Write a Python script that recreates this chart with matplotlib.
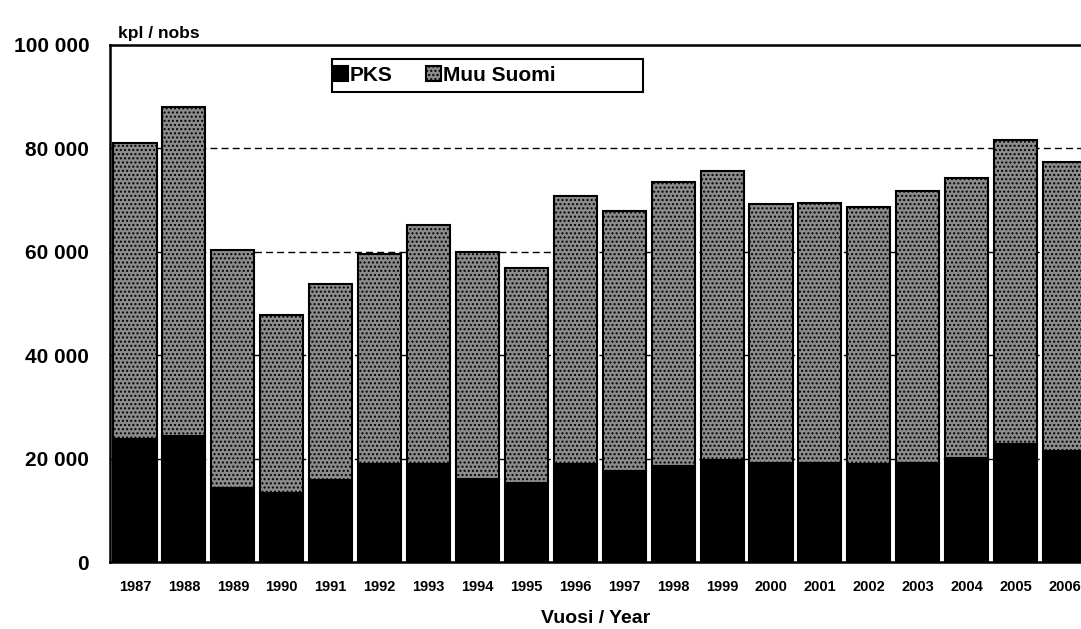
import numpy as np
import matplotlib.pyplot as plt
from matplotlib.patches import Rectangle

plt.rcParams['font.family'] = ['Liberation Sans', 'DejaVu Sans']
plt.rcParams['font.weight'] = 'bold'
plt.rcParams['hatch.linewidth'] = 1.0

years = [str(y) for y in range(1987, 2007)]
pks = [23800, 24400, 14300, 13400, 15900, 19000, 19000, 16000, 15300, 19000,
       17600, 18500, 19700, 19200, 19200, 19000, 19200, 20200, 22900, 21500]
totals = [81000, 88000, 60300, 47800, 53800, 59600, 65200, 60000, 56900, 70800,
          67900, 73500, 75600, 69200, 69400, 68700, 71800, 74300, 81600, 77400]
muu_suomi = [t - p for t, p in zip(totals, pks)]
y_ticks = [0, 20000, 40000, 60000, 80000, 100000]
y_labels = ['0', '20 000', '40 000', '60 000', '80 000', '100 000']

fig = plt.figure(figsize=(10.81, 6.29), dpi=100)
ax = fig.add_axes([0.1018, 0.1065, 0.9056, 0.822])

x = np.arange(len(years))
ax.bar(x, pks, width=0.88, color='black', edgecolor='black', linewidth=1.5,
       label='PKS', zorder=3)
ax.bar(x, muu_suomi, bottom=pks, width=0.88, color='#8c8c8c', edgecolor='black',
       hatch='....', linewidth=1.5, label='Muu Suomi', zorder=3)

for yv in y_ticks[1:-1]:
    ax.axhline(yv, color='black', lw=1.0, ls=(0, (5, 3)), zorder=1)

ax.set_xlim(-0.51, len(years) - 0.5)
ax.set_ylim(0, 100000)
ax.set_yticks(y_ticks)
ax.set_yticklabels(y_labels, fontsize=15)
ax.set_xticks(x)
ax.set_xticklabels(years, fontsize=10.5)
ax.tick_params(axis='y', length=0, pad=15)
ax.tick_params(axis='x', length=0, pad=13)
for s in ['top', 'left', 'bottom', 'right']:
    ax.spines[s].set_linewidth(1.8)

# legend box wider than its content
ax.add_patch(Rectangle((0.2268, 0.909), 0.3176, 0.064, transform=ax.transAxes,
                       fill=False, edgecolor='black', lw=1.5, zorder=5))
ax.legend(loc='center left', bbox_to_anchor=(0.228, 0.941), ncol=2, frameon=False,
          fontsize=15, handlelength=0.7, handleheight=0.7, handletextpad=0.1,
          columnspacing=1.6, borderaxespad=0, borderpad=0)

fig.text(0.109, 0.9475, 'kpl / nobs', fontsize=12.5, va='center')
fig.text(596 / 1081, 0.016, 'Vuosi / Year', fontsize=14, ha='center', va='center')

fig.savefig('out.png', dpi=100)
